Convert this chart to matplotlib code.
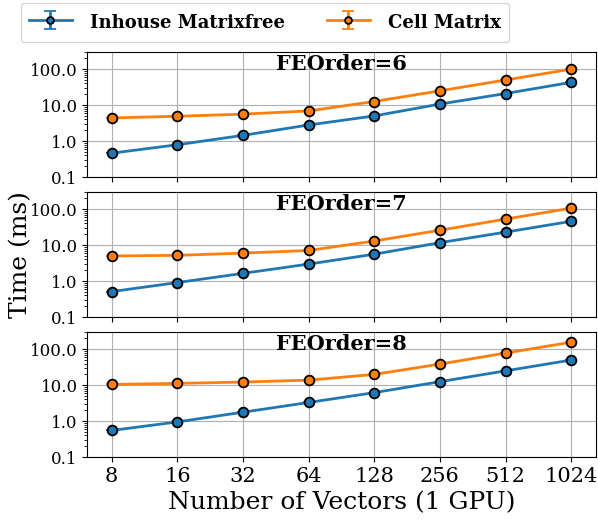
import numpy as np
import matplotlib
matplotlib.use('Agg')
from matplotlib import pyplot as plt

plt.rcParams['font.family'] = ['DejaVu Serif']

vectors = [8, 16, 32, 64, 128, 256, 512, 1024]
orders = [6, 7, 8]

# times in ms
inhouse_6 = [0.46, 0.79, 1.44, 2.8, 5.0, 10.7, 21, 43]
cell_6 = [4.4, 4.9, 5.6, 6.9, 12.6, 25, 50, 100]
inhouse_7 = [0.51, 0.91, 1.64, 2.97, 5.6, 11.7, 23, 46]
cell_7 = [5.0, 5.2, 6.0, 7.1, 13, 26, 53, 107]
inhouse_8 = [0.55, 0.95, 1.77, 3.3, 6.2, 12.5, 25, 50]
cell_8 = [10.5, 11.2, 12.2, 13.8, 19.9, 38.6, 78, 157]

inhouse = [inhouse_6, inhouse_7, inhouse_8]
cell = [cell_6, cell_7, cell_8]

fig, axes = plt.subplots(3, 1, sharex=True, figsize=(5.98, 5.2), dpi=100)
fig.subplots_adjust(left=0.146, right=0.997, top=0.90, bottom=0.121, hspace=0.12)

x = np.arange(len(vectors))
for i, ax in enumerate(axes):
    h1 = ax.errorbar(x, inhouse[i], yerr=0, color='tab:blue', lw=2, marker='o', ms=7,
                     mec='black', mew=1.3, capsize=4, label='Inhouse Matrixfree')
    h2 = ax.errorbar(x, cell[i], yerr=0, color='tab:orange', lw=2, marker='o', ms=7,
                     mec='black', mew=1.3, capsize=4, label='Cell Matrix')
    ax.set_yscale('log')
    ax.set_ylim(0.1, 300)
    ax.set_yticks([0.1, 1, 10, 100])
    ax.set_yticklabels(['0.1', '1.0', '10.0', '100.0'], fontsize=12)
    ax.grid(True, which='major', color='#b0b0b0', lw=0.8)
    ax.set_title('FEOrder=%d' % orders[i], fontsize=15, fontweight='bold', y=0.79)
    ax.set_xlim(-0.37, 7.38)

axes[-1].set_xticks(x)
axes[-1].set_xticklabels([str(v) for v in vectors], fontsize=15)
axes[-1].set_xlabel('Number of Vectors (1 GPU)', fontsize=18)
fig.text(0.035, 0.51, 'Time (ms)', rotation=90, fontsize=18, va='center', ha='center')

fig.legend([h1, h2], ['Inhouse Matrixfree', 'Cell Matrix'], loc='upper center',
           bbox_to_anchor=(0.443, 0.998), ncol=2, prop={'weight': 'bold', 'size': 13},
           columnspacing=2.3, handlelength=2.4, handleheight=1.6, borderpad=0.45,
           handletextpad=1.0, markerscale=0.7, borderaxespad=0.1)

plt.savefig('out.png')
